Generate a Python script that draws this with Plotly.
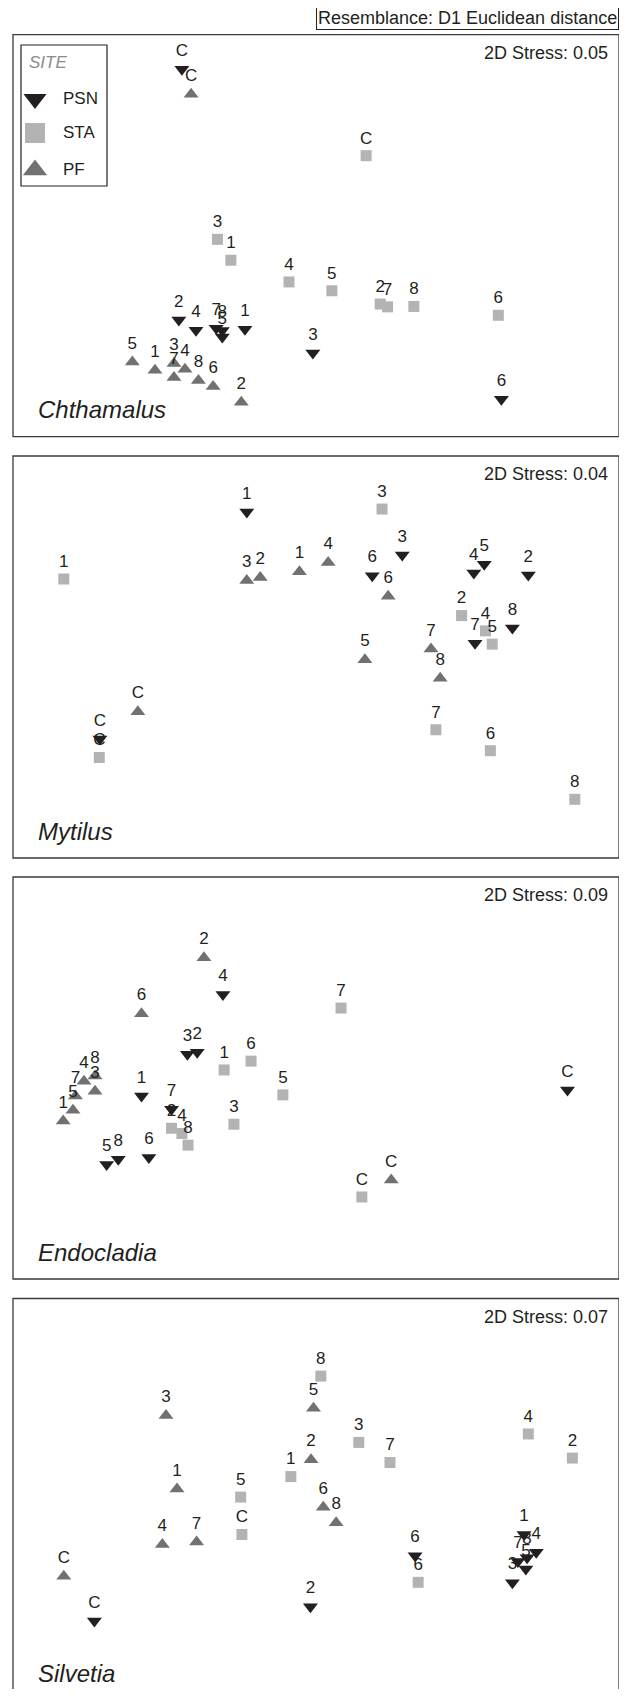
import plotly.graph_objects as go

# ---------------- data (NMDS ordination scores, panel units 0-100) ----------------
LABELS = ["C", "1", "2", "3", "4", "5", "6", "7", "8"]
SPECIES = ["Chthamalus", "Mytilus", "Endocladia", "Silvetia"]
STRESS = ["2D Stress: 0.05", "2D Stress: 0.04", "2D Stress: 0.09", "2D Stress: 0.07"]
SITES = ["PSN", "STA", "PF"]

# Chthamalus
CHTH_PSN_X = [27.6, 37.9, 27.1, 49.0, 29.9, 34.2, 79.8, 33.2, 34.2]
CHTH_PSN_Y = [91.4, 26.7, 29.0, 20.8, 26.5, 24.8, 9.3, 27.0, 26.4]
CHTH_STA_X = [57.7, 35.6, 60.0, 33.4, 45.1, 52.1, 79.3, 61.2, 65.5]
CHTH_STA_Y = [69.9, 43.9, 33.0, 49.1, 38.5, 36.3, 30.2, 32.3, 32.4]
CHTH_PF_X = [29.1, 23.2, 37.3, 26.3, 28.1, 19.5, 32.7, 26.3, 30.3]
CHTH_PF_Y = [85.2, 16.5, 8.6, 18.2, 16.8, 18.6, 12.5, 14.7, 14.0]

# Mytilus
MYT_PSN_X = [14.2, 38.2, 84.2, 63.6, 75.3, 77.0, 58.7, 75.5, 81.6]
MYT_PSN_Y = [29.6, 86.1, 70.4, 75.4, 70.9, 73.1, 70.2, 53.4, 57.2]
MYT_STA_X = [14.1, 8.3, 73.3, 60.3, 77.2, 78.3, 78.0, 69.1, 91.8]
MYT_STA_Y = [25.0, 69.4, 60.3, 86.8, 56.5, 53.2, 26.7, 31.9, 14.6]
MYT_PF_X = [20.4, 46.8, 40.4, 38.2, 51.5, 57.5, 61.3, 68.3, 69.8]
MYT_PF_Y = [36.4, 71.2, 69.8, 69.0, 73.5, 49.3, 65.1, 52.0, 44.7]

# Endocladia
END_PSN_X = [90.6, 21.0, 30.1, 28.5, 34.3, 15.3, 22.2, 25.9, 17.2]
END_PSN_Y = [47.0, 45.5, 56.4, 55.9, 70.8, 28.5, 30.2, 42.2, 29.8]
END_STA_X = [57.0, 34.5, 25.9, 36.1, 27.6, 44.1, 38.9, 53.6, 28.6]
END_STA_Y = [20.4, 52.0, 37.5, 38.5, 36.2, 45.8, 54.2, 67.4, 33.3]
END_PF_X = [61.8, 8.2, 31.2, 13.4, 11.6, 9.8, 21.0, 10.2, 13.4]
END_PF_Y = [24.6, 39.3, 79.9, 46.7, 49.2, 42.0, 66.0, 45.5, 50.5]

# Silvetia
SIL_PSN_X = [13.3, 83.5, 48.6, 81.6, 85.5, 83.8, 65.7, 82.5, 84.0]
SIL_PSN_Y = [19.8, 41.3, 23.3, 29.3, 36.9, 32.7, 36.0, 34.6, 35.5]
SIL_STA_X = [37.4, 45.4, 91.4, 56.5, 84.2, 37.2, 66.2, 61.6, 50.3]
SIL_STA_Y = [41.3, 55.7, 60.3, 64.2, 66.3, 50.6, 29.4, 59.2, 80.7]
SIL_PF_X = [8.3, 26.8, 48.7, 25.0, 24.4, 49.1, 50.7, 30.0, 52.8]
SIL_PF_Y = [30.9, 52.6, 59.9, 70.9, 38.8, 72.7, 48.1, 39.4, 44.2]

PANEL_DATA = [
    [(CHTH_PSN_X, CHTH_PSN_Y), (CHTH_STA_X, CHTH_STA_Y), (CHTH_PF_X, CHTH_PF_Y)],
    [(MYT_PSN_X, MYT_PSN_Y), (MYT_STA_X, MYT_STA_Y), (MYT_PF_X, MYT_PF_Y)],
    [(END_PSN_X, END_PSN_Y), (END_STA_X, END_STA_Y), (END_PF_X, END_PF_Y)],
    [(SIL_PSN_X, SIL_PSN_Y), (SIL_STA_X, SIL_STA_Y), (SIL_PF_X, SIL_PF_Y)],
]

# ---------------- styling / layout ----------------
FONT = "Liberation Sans, Arial, Helvetica, sans-serif"
INK = "#231f20"
SITE_STYLE = {
    "PSN": dict(symbol="triangle-down", color="#231f20", size=13, lsize=20),
    "STA": dict(symbol="square", color="#b3b3b3", size=11, lsize=20),
    "PF": dict(symbol="triangle-up", color="#717171", size=13, lsize=21),
}

OFF = 8               # default body margin of the html page
PAGE_W, PAGE_H = 627, 1697
W, H = PAGE_W - OFF, PAGE_H - 2 * OFF
VISIBLE_RIGHT = 619   # rightmost page column that is shown

def px_x(px):
    return (px - OFF) / W

def px_y(py):
    return 1 - (py - OFF) / H

PANEL_LEFT, PANEL_RIGHT = 13, 625
PANEL_TOPS = [34.7, 456.0, 877.0, 1298.5]
PANEL_H = 402.0
PAGE_BOTTOM = OFF + H
BORDER_RIGHT = min(PANEL_RIGHT, VISIBLE_RIGHT)

fig = go.Figure()
layout_axes = {}
shapes = []
annotations = []
BORDER = dict(color="#3a3a3a", width=1.3)

for i in range(4):
    top = PANEL_TOPS[i]
    bot = top + PANEL_H
    bot_vis = min(bot, PAGE_BOTTOM)
    # keep the same data scale when the panel runs past the page bottom
    ymin = (bot - bot_vis) / PANEL_H * 100
    y0 = px_y(bot_vis)
    y1 = px_y(top)
    xa = "xaxis" if i == 0 else f"xaxis{i+1}"
    ya = "yaxis" if i == 0 else f"yaxis{i+1}"
    xr = "x" if i == 0 else f"x{i+1}"
    yr = "y" if i == 0 else f"y{i+1}"
    layout_axes[xa] = dict(domain=[px_x(PANEL_LEFT), px_x(PANEL_RIGHT)], range=[0, 100],
                           visible=False, anchor=yr, fixedrange=True)
    layout_axes[ya] = dict(domain=[max(y0, 0.0), y1], range=[ymin, 100], visible=False,
                           anchor=xr, fixedrange=True)

    for s_idx, site in enumerate(SITES):
        xs, ys = PANEL_DATA[i][s_idx]
        st = SITE_STYLE[site]
        fig.add_trace(go.Scatter(
            x=xs, y=ys, text=LABELS, mode="markers+text",
            textposition="top center",
            textfont=dict(family=FONT, size=17, color=INK),
            marker=dict(symbol=st["symbol"], color=st["color"], size=st["size"],
                        line=dict(width=0)),
            xaxis=xr, yaxis=yr, showlegend=False, cliponaxis=False,
            hoverinfo="skip",
        ))

    xl, xrr = px_x(PANEL_LEFT), px_x(BORDER_RIGHT)
    if bot <= PAGE_BOTTOM - 1:
        shapes.append(dict(type="rect", xref="paper", yref="paper",
                           x0=xl, x1=xrr, y0=y0, y1=y1, line=BORDER))
    else:
        shapes.append(dict(type="path", xref="paper", yref="paper",
                           path=f"M {xl},-0.01 L {xl},{y1} L {xrr},{y1} L {xrr},-0.01",
                           line=BORDER))

    annotations.append(dict(text=STRESS[i], xref="paper", yref="paper",
                            x=px_x(610), y=px_y(top + 18), xanchor="right", yanchor="middle",
                            showarrow=False, font=dict(family=FONT, size=18, color=INK)))
    annotations.append(dict(text=f"<i>{SPECIES[i]}</i>", xref="paper", yref="paper",
                            x=px_x(36), y=px_y(bot - 27), xanchor="left", yanchor="middle",
                            showarrow=False, font=dict(family=FONT, size=24, color=INK)))

annotations.append(dict(text="Resemblance: D1 Euclidean distance", xref="paper", yref="paper",
                        x=px_x(VISIBLE_RIGHT - 0.5), y=px_y(18.5), xanchor="right", yanchor="middle",
                        showarrow=False, bordercolor="#231f20", borderwidth=1, borderpad=1,
                        font=dict(family=FONT, size=18, color=INK)))

# ---------------- legend box (own small axis pair, units = box pixels) ----------------
LEG_L, LEG_R, LEG_T, LEG_B = 21, 107, 45, 186
LEG_ROWS = [54, 88, 125]          # row centres inside the box
LEG_MARK_X, LEG_TEXT_X = 14, 40
layout_axes["xaxis5"] = dict(domain=[px_x(LEG_L), px_x(LEG_R)], range=[0, LEG_R - LEG_L],
                             visible=False, anchor="y5", fixedrange=True)
layout_axes["yaxis5"] = dict(domain=[px_y(LEG_B), px_y(LEG_T)], range=[LEG_B - LEG_T, 0],
                             visible=False, anchor="x5", fixedrange=True)
shapes.append(dict(type="rect", xref="paper", yref="paper",
                   x0=px_x(LEG_L), x1=px_x(LEG_R), y0=px_y(LEG_B), y1=px_y(LEG_T),
                   line=dict(color="#231f20", width=1.2), fillcolor="white", layer="below"))
for site, row in zip(SITES, LEG_ROWS):
    st = SITE_STYLE[site]
    fig.add_trace(go.Scatter(
        x=[LEG_MARK_X], y=[row], mode="markers", xaxis="x5", yaxis="y5",
        marker=dict(symbol=st["symbol"], color=st["color"], size=st["lsize"], line=dict(width=0)),
        showlegend=False, hoverinfo="skip", cliponaxis=False,
    ))
    annotations.append(dict(text=site, xref="x5", yref="y5", x=LEG_TEXT_X, y=row,
                            xanchor="left", yanchor="middle", showarrow=False,
                            font=dict(family=FONT, size=17, color=INK)))
annotations.append(dict(text="<i>SITE</i>", xref="x5", yref="y5", x=6, y=18,
                        xanchor="left", yanchor="middle", showarrow=False,
                        font=dict(family=FONT, size=17, color="#8a8a8a")))

fig.update_layout(
    width=W, height=H,
    margin=dict(l=0, r=0, t=0, b=0),
    paper_bgcolor="white", plot_bgcolor="rgba(0,0,0,0)",
    shapes=shapes, annotations=annotations,
    showlegend=False,
    **layout_axes,
)

fig.write_html("out.html")
